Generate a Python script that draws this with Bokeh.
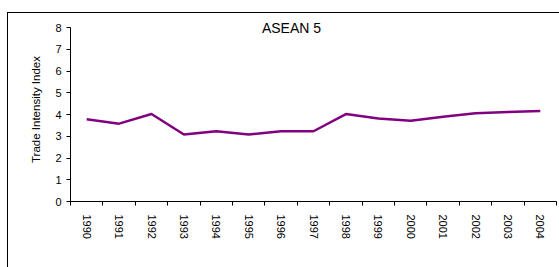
from bokeh.plotting import figure
from bokeh.models import FixedTicker, Range1d, Label
from bokeh.layouts import column
from bokeh.embed import file_html
from bokeh.resources import INLINE

years = ["1990", "1991", "1992", "1993", "1994", "1995", "1996", "1997",
         "1998", "1999", "2000", "2001", "2002", "2003", "2004"]
tii = [3.78, 3.58, 4.02, 3.08, 3.23, 3.08, 3.23, 3.23,
       4.02, 3.82, 3.71, 3.90, 4.06, 4.11, 4.16]
y_ticks = [0, 1, 2, 3, 4, 5, 6, 7, 8]
title_text = "ASEAN 5"
y_label = "Trade Intensity Index"

idx = list(range(len(years)))
FONT = "Liberation Sans"

p = figure(width=551, height=254, output_backend="svg", toolbar_location=None,
           x_range=Range1d(-0.5, len(years) - 0.5), y_range=Range1d(0, 8.46),
           min_border_left=62, min_border_right=3, min_border_top=4,
           min_border_bottom=66)
p.outline_line_color = None
p.background_fill_color = "white"
p.border_fill_color = "white"
p.xgrid.grid_line_color = None
p.ygrid.grid_line_color = None

p.line(idx, tii, line_color="#800080", line_width=2.5)

# x axis
p.xaxis.ticker = FixedTicker(ticks=idx, minor_ticks=[i - 0.5 for i in range(len(years) + 1)])
p.xaxis.major_label_overrides = {i: y for i, y in zip(idx, years)}
p.xaxis.major_label_orientation = "vertical"
p.xaxis.major_tick_line_color = None
p.xaxis.major_tick_out = 0
p.xaxis.major_tick_in = 0
p.xaxis.minor_tick_out = 4
p.xaxis.minor_tick_in = 0
p.xaxis.minor_tick_line_color = "black"
p.xaxis.major_label_standoff = 9
p.xaxis.major_label_text_font = FONT
p.xaxis.major_label_text_font_size = "11px"
p.xaxis.major_label_text_color = "black"
p.xaxis.axis_line_color = "black"

# y axis
p.yaxis.ticker = FixedTicker(ticks=y_ticks)
p.yaxis.bounds = (0, 8)
p.yaxis.minor_tick_line_color = None
p.yaxis.major_tick_out = 4
p.yaxis.major_tick_in = 0
p.yaxis.major_tick_line_color = "black"
p.yaxis.axis_line_color = "black"
p.yaxis.major_label_standoff = 5
p.yaxis.major_label_text_font = FONT
p.yaxis.major_label_text_font_size = "11px"
p.yaxis.major_label_text_color = "black"
p.yaxis.axis_label = y_label
p.yaxis.axis_label_text_font = FONT
p.yaxis.axis_label_text_font_style = "normal"
p.yaxis.axis_label_text_font_size = "11.5px"
p.yaxis.axis_label_text_color = "black"
p.yaxis.axis_label_standoff = 10

p.add_layout(Label(x=6.32, y=7.96, text=title_text, text_align="center",
                   text_baseline="middle", text_font=FONT,
                   text_font_size="14px", text_color="black"))

layout = column(p, margin=(12, 0, 0, 7),
                styles={"border-left": "1px solid black",
                        "border-top": "1px solid black"})

open("out.html", "w").write(file_html(layout, INLINE))
